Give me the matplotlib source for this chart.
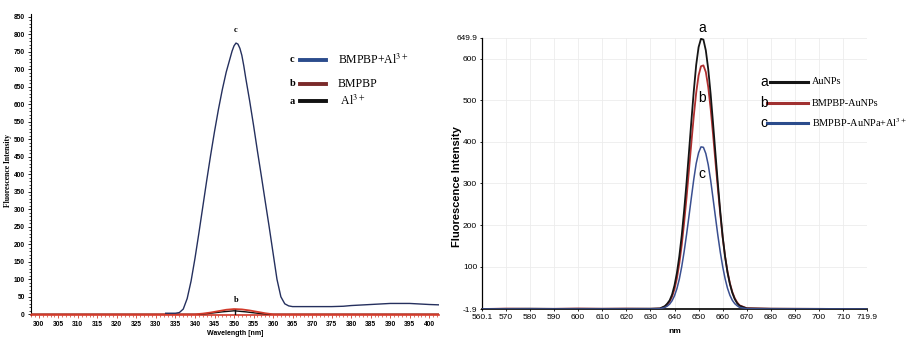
import numpy as np
import matplotlib
matplotlib.use("Agg")
import matplotlib.pyplot as plt
from matplotlib.lines import Line2D
from matplotlib.ticker import MultipleLocator, FixedLocator

plt.rcParams['mathtext.fontset'] = 'stix'

# ---- left panel data (wavelength nm, intensity) ----
left_wl_c = [332.5, 334, 335, 336, 337, 338, 339, 340, 341, 342, 343, 344, 345, 346, 347,
             348, 349, 349.5, 350, 350.5, 351, 351.5, 352, 352.5, 353, 354, 355, 356, 357,
             358, 359, 360, 361, 362, 363, 364, 365, 370, 375, 378, 380, 385, 390,
             395, 400, 402.5]
left_c = [3, 3, 3, 5, 15, 45, 95, 160, 232, 307, 382, 454, 522, 585, 642,
          692, 732, 752, 767, 775, 772, 760, 740, 710, 675, 610, 540, 466, 395,
          322, 250, 175, 100, 50, 30, 24, 22, 22, 22, 23, 25, 28, 31,
          31, 28, 27]
left_wl_b = [298, 340, 342, 344, 346, 348, 350, 352, 354, 356, 358, 360, 402.5]
left_b = [0, 0, 2, 5, 9, 13, 15, 14, 11, 7, 3, 0, 0]
left_wl_a = [298, 341, 344, 347, 350, 353, 356, 359, 402.5]
left_a = [0, 0, 3, 7, 10, 7, 3, 0, 0]

# ---- right panel data ----
right_wl = [560.1, 570, 580, 590, 600, 610, 620, 630, 634, 636, 637, 638, 639, 640, 641,
            642, 643, 644, 645, 646, 647, 648, 649, 650, 651, 652, 653, 654, 655,
            656, 657, 658, 659, 660, 661, 662, 663, 664, 665, 666, 667, 670, 680,
            690, 700, 710, 719.9]
right_a = [-1.9, -1.5, -1.2, -1.6, -1.4, -1.5, -1.3, -1.2, -0.5, 5, 11, 19, 33, 55, 85,
           125, 175, 235, 302, 375, 450, 522, 585, 628, 648, 646, 620, 575, 515,
           445, 372, 300, 232, 172, 124, 86, 58, 37, 22, 12, 6, -0.5, -1.3,
           -1.5, -1.6, -1.8, -1.9]
right_b = [-1.9, -1.0, -1.4, -1.5, -0.8, -1.3, -1.0, -1.4, -0.8, 4, 9, 16, 28, 46, 72,
           108, 152, 206, 266, 332, 398, 462, 518, 560, 582, 584, 568, 532, 480,
           418, 352, 288, 226, 170, 124, 88, 60, 39, 24, 14, 7, 0, -1.2,
           -1.4, -1.6, -1.8, -1.9]
right_c = [-1.9, -1.8, -1.8, -1.8, -1.8, -1.8, -1.8, -1.8, -1.2, 2, 5, 10, 18, 30, 47,
           70, 100, 136, 177, 221, 266, 310, 348, 374, 388, 387, 372, 345, 308,
           264, 219, 175, 135, 100, 71, 48, 31, 19, 11, 6, 2, -1.2, -1.8,
           -1.8, -1.8, -1.8, -1.9]

right_yticks = [-1.9, 100, 200, 300, 400, 500, 600, 649.9]
right_xticks = [560.1, 570, 580, 590, 600, 610, 620, 630, 640, 650, 660, 670, 680,
                690, 700, 710, 719.9]

W, H = 906, 338
fig = plt.figure(figsize=(W / 100, H / 100), dpi=100)
fig.patch.set_facecolor('white')

def fx(px):
    return px / W

def fy(py):
    return 1 - py / H

narrow = ['Liberation Sans Narrow', 'Liberation Sans', 'DejaVu Sans']
serif = ['Liberation Serif', 'DejaVu Serif']
sans = ['Liberation Sans', 'DejaVu Sans']

# ================= left panel =================
ax1 = fig.add_axes([fx(31), fy(315), fx(439) - fx(31), fy(14) - fy(315)])
ax1.plot(left_wl_a, left_a, color='#111111', lw=1.0, zorder=3)
ax1.plot(left_wl_b, left_b, color='#d23a2a', lw=1.3, zorder=4)
ax1.plot(left_wl_c, left_c, color='#25305e', lw=1.0, zorder=5)
ax1.plot([350.3, 350.3], [0, 13], color='#111111', lw=1.0, zorder=6)
ax1.set_xlim(298, 402.5)
ax1.set_ylim(-2, 858)
for s in ['top', 'right']:
    ax1.spines[s].set_visible(False)
ax1.spines['left'].set_linewidth(0.8)
ax1.spines['bottom'].set_color('#d23a2a')
ax1.spines['bottom'].set_linewidth(1.2)
ax1.xaxis.set_major_locator(MultipleLocator(5))
ax1.xaxis.set_minor_locator(MultipleLocator(1))
ax1.yaxis.set_major_locator(MultipleLocator(50))
ax1.yaxis.set_minor_locator(MultipleLocator(10))
ax1.tick_params(axis='both', which='major', length=2.5, width=0.6, labelsize=4.8, pad=2)
ax1.tick_params(axis='both', which='minor', length=1.3, width=0.5)
ax1.tick_params(axis='x', which='both', color='#d23a2a')
for lab in ax1.get_xticklabels() + ax1.get_yticklabels():
    lab.set_family(narrow)
    lab.set_fontweight('bold')
ax1.set_xlabel('Wavelength [nm]', fontsize=5, fontweight='bold', family=narrow, labelpad=1)
ax1.set_ylabel('Fluorescence Intensity', fontsize=5.5, fontweight='bold', family=serif)
ax1.yaxis.set_label_coords(-0.047, 0.48)
ax1.text(350.4, 800, 'c', fontsize=6, fontweight='bold', family=serif, ha='center', va='bottom')
ax1.text(350.5, 30, 'b', fontsize=6, fontweight='bold', family=serif, ha='center', va='bottom')

# left legend
for ypx, letter, col, label in [(60, 'c', '#2b4c8c', 'BMPBP+Al$^{3+}$'),
                                (84, 'b', '#7a2a2a', 'BMPBP'),
                                (101, 'a', '#111111', ' Al$^{3+}$')]:
    fig.text(fx(290), fy(ypx), letter, fontsize=7.5, fontweight='bold', family=serif,
             ha='left', va='center')
    fig.add_artist(Line2D([fx(300), fx(326)], [fy(ypx), fy(ypx)], color=col, lw=2.8))
    fig.text(fx(338), fy(ypx), label, fontsize=8.5, family=serif, ha='left', va='center')

# ================= right panel =================
ax2 = fig.add_axes([fx(482), fy(309), fx(867) - fx(482), fy(38) - fy(309)])
ax2.plot(right_wl, right_a, color='#151515', lw=1.3, zorder=5)
ax2.plot(right_wl, right_b, color='#b03030', lw=1.3, zorder=4)
ax2.plot(right_wl, right_c, color='#3a4f90', lw=1.1, zorder=6)
ax2.set_xlim(560.1, 719.9)
ax2.set_ylim(-1.9, 649.9)
for s in ['top', 'right']:
    ax2.spines[s].set_visible(False)
ax2.spines['left'].set_linewidth(0.9)
ax2.spines['bottom'].set_linewidth(1.2)
ax2.xaxis.set_major_locator(FixedLocator(right_xticks))
ax2.yaxis.set_major_locator(FixedLocator(right_yticks))
ax2.set_xticklabels([f'{v:g}' for v in right_xticks])
ax2.set_yticklabels([f'{v:g}' for v in right_yticks])
ax2.grid(True, color='#ececec', lw=0.6)
ax2.tick_params(axis='both', length=1.5, width=0.6, labelsize=6, pad=2)
for lab in ax2.get_xticklabels() + ax2.get_yticklabels():
    lab.set_family(narrow)
ax2.set_xlabel('nm', fontsize=6, fontweight='bold', family=narrow, labelpad=5)
ax2.set_ylabel('Fluorescence Intensity', fontsize=8, fontweight='bold', family=sans)
ax2.yaxis.set_label_coords(-0.052, 0.45)
ax2.text(651.5, 656, 'a', fontsize=10, ha='center', va='bottom', family=sans, clip_on=False)
ax2.text(651.5, 505, 'b', fontsize=10, ha='center', va='center', family=sans)
ax2.text(651.5, 322, 'c', fontsize=10, ha='center', va='center', family=sans)

# right legend
for ypx, letter, x0, col, label in [(82, 'a', 770, '#151515', 'AuNPs'),
                                    (103, 'b', 767, '#a03030', 'BMPBP-AuNPs'),
                                    (123, 'c', 767, '#2b4c8c', 'BMPBP-AuNPa+Al$^{3+}$')]:
    fig.text(fx(760), fy(ypx), letter, fontsize=10, family=sans, ha='left', va='center')
    fig.add_artist(Line2D([fx(x0), fx(808)], [fy(ypx), fy(ypx)], color=col, lw=2.2))
    fig.text(fx(812), fy(ypx), label, fontsize=7.4, family=serif, ha='left', va='center')

fig.savefig('out.png', dpi=100)
